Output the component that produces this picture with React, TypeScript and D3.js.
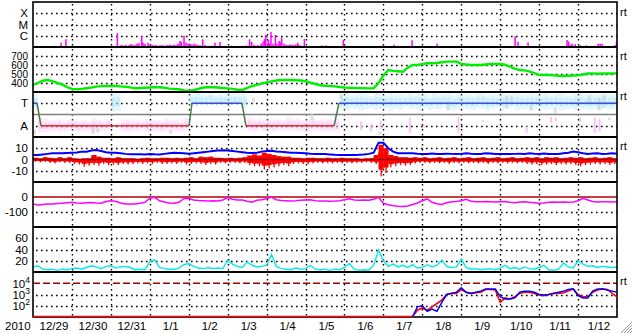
import React from 'react';
import * as d3 from 'd3';

const W = 633, H = 334;
const X0 = 33, X1 = 617;
const HOURS = 360;

// ---------- data ----------
const dayLabels = ['12/29','12/30','12/31','1/1','1/2','1/3','1/4','1/5','1/6','1/7','1/8','1/9','1/10','1/11','1/12'];

// X-ray flux bars (hours since 12/29 00:00, W/m^2)
const flareHours = [13.6,15.4,17.3,20.3,24.5,25.9,52.0,53.0,54.3,55.5,57.3,59.2,60.4,61.6,62.9,64.1,65.3,67.0,67.8,69.0,70.9,72.1,73.4,74.6,75.8,77.1,78.3,79.5,80.8,82.0,83.2,84.5,85.7,86.9,88.2,89.4,90.6,91.5,93.1,94.3,95.6,96.8,98.0,99.3,100.5,101.7,103.0,104.6,106.0,107.9,109.1,110.4,112.2,113.4,115.3,120.2,122.1,123.9,125.1,127.6,129.5,131.3,133.5,134.8,136.2,137.5,138.7,140.6,141.8,142.7,143.5,145.1,145.8,146.7,148.0,149.4,150.4,151.7,152.3,153.3,154.7,156.0,157.2,158.4,159.7,160.9,162.1,163.2,164.0,165.2,167.3,168.3,176.9,178.2,179.4,180.6,181.9,183.1,191.3,193.0,194.2,195.4,215.8,222.6,233.7,249.1,297.2,299.0,305.2,329.2,330.2,331.1,332.3,334.2,337.3,341.0,348.4,349.6,350.8,358.8,359.7];
const flareFlux = [1.2e-7,1.1e-7,2.4e-7,5e-7,1.3e-7,1.1e-7,1.7e-6,1.3e-7,1.5e-7,1.4e-7,1.6e-7,1.5e-7,1.9e-7,1.6e-7,1.5e-7,2e-7,2.2e-7,1e-6,2.5e-7,1.9e-7,2.4e-7,1.6e-7,1.5e-7,1.4e-7,1.5e-7,1.3e-7,1.4e-7,1.5e-7,1.3e-7,1.4e-7,1.5e-7,1.6e-7,1.4e-7,1.6e-7,1.5e-7,1.9e-7,3.4e-7,2.8e-7,1e-6,2.5e-7,2e-7,1.9e-7,1.7e-7,2e-7,1.7e-7,1.5e-7,1.4e-7,4.8e-7,1.5e-7,1.3e-7,1.2e-7,1.3e-7,2.4e-7,1.3e-7,2.8e-7,1.2e-7,1.3e-7,1.2e-7,1.1e-7,1.2e-7,1.3e-7,1.4e-7,4.8e-7,2.8e-7,1.5e-7,1.3e-7,1.5e-7,2e-7,3e-7,5e-7,1.2e-6,4.2e-7,2e-7,2.2e-6,2e-7,1.2e-6,2e-7,3.4e-7,2.8e-7,7.2e-7,2e-7,1.6e-7,1.5e-7,1.7e-7,1.6e-7,1.5e-7,1.7e-7,2.4e-7,1.5e-7,1.3e-7,5.1e-7,1.2e-7,1.3e-7,1.4e-7,1.2e-7,1.4e-7,1.3e-7,1.2e-7,4.2e-7,1.3e-7,1.2e-7,1.2e-7,1.5e-7,1.6e-7,4e-7,2e-7,9e-7,3e-7,2.5e-7,4.2e-7,3e-7,1.5e-7,2e-7,1.8e-7,1.5e-7,1.4e-7,1.9e-7,2e-7,1.9e-7,1.5e-7,3e-7];

// Solar wind speed, 3-hourly (km/s)
const speed = [378,400,425,433,420,400,385,355,335,330,335,342,350,360,365,367,367,367,362,359,352,341,345,348,350,352,352,348,338,335,330,318,315,320,335,350,352,352,350,345,340,335,325,322,345,365,380,395,405,418,428,433,433,433,430,428,420,403,390,375,370,368,362,355,350,348,345,343,342,340,340,400,480,544,535,530,525,570,600,600,610,619,619,622,630,637,637,640,611,605,600,600,600,605,611,611,611,605,581,560,544,540,530,510,490,489,489,485,480,478,480,483,485,495,505,507,503,505,507,505,507];

// IMF sector boundary line (hours, phi deg)
const sectorHours = [0,2.5,4.9,96.2,98,128.8,131.3,185.6,188.6,360];
const sectorPhi = [315,315,135,135,315,315,135,135,315,315];

// IMF phi spread, 3-hour bins (deg)
const phiLo = [265,80,85,90,95,85,90,100,95,85,90,95,80,90,95,100,250,255,90,85,95,90,100,85,90,95,85,90,95,85,90,95,300,290,300,295,305,300,295,300,290,305,300,280,95,90,100,90,95,85,100,95,90,100,95,90,85,95,100,90,95,90,85,270,260,275,265,255,270,280,260,265,275,255,270,260,280,265,270,255,275,260,270,265,280,260,255,270,275,265,260,280,270,255,265,275,260,270,285,260,265,270,255,275,265,260,270,280,255,265,270,260,275,265,255,270,260,275,265,270];
const phiHi = [385,200,190,180,175,185,170,180,190,175,185,170,195,185,175,190,395,400,180,190,175,185,170,190,180,185,175,190,180,185,175,195,385,395,390,385,395,380,390,385,395,390,385,390,200,185,190,180,195,185,190,180,200,185,190,180,185,195,180,190,185,180,190,385,395,380,390,400,385,375,395,390,380,400,385,390,380,395,385,400,390,380,395,385,390,400,380,395,385,390,380,395,400,385,390,380,395,385,390,400,385,380,395,390,385,400,380,390,395,385,380,400,390,385,395,380,390,400,385,390];
const pinkExtras = [[67,100,170],[69,90,150],[71,110,175],[77,77,197],[80,120,140],[87,77,205],[92,165,180],[101,77,130],[106,160,205],[107,170,200],[112,165,200],[115,77,200],[116,90,190],[118,180,200]];
const grayExtras = [[0,60,100],[12,70,150],[13,80,120],[28,70,100],[45,320,360],[57,180,230],[63,350,390],[71,60,90],[85,260,330],[97,280,380],[98,300,370],[102,260,300],[107,230,280],[114,300,380],[116,260,360],[117,280,380]];

// IMF Bt (3-hourly, nT)
const bt = [4,4,4.5,5,5.5,5.5,5.5,5.8,6,6.2,7,7,8,8.4,7.5,6.5,6,6,5.5,5,4.6,4.6,4.6,4.5,4.8,4.6,4.5,5,5.5,6,5.8,5.5,5.2,5.5,6,6.5,7,7.5,8,8.2,8,7.5,7,6.5,6,5.8,6,7,7.5,7.8,7.2,6.8,6.5,6,6,5.8,5.5,5.2,5,5,4.8,4.5,4.2,4,4,4,4,4.2,4.5,5,6,15,15,10,7,5.5,5.5,5.5,5.5,5.2,5,5,5.3,5,5,5.2,5,4.8,5,5.5,5.2,5,5,5.5,5.3,5,5,5,4.8,5,5.2,5,5.5,5.2,5,5.3,5,5,4.8,5.5,6,7,6.5,5.5,5,5.3,5.5,5,5.2,5.5,5];
// IMF Bz range per 3-hour bin (nT)
const bzHi = [1.5,1,2,1.5,1,2,1,2,1,0.5,1,1,4,2.5,1.5,1.5,1,2,1,1,1,0.5,1,1.5,1,1,1.5,1.5,1,1.5,1,1.5,2,1,2.5,2,2.5,1.5,1.5,1,1.5,1,1.5,2,3.5,4.5,3.5,6,5,4,3,2.5,2.5,1.5,1.5,1,1.5,1.5,1,1,1.5,1,1,1.5,1,1,1,0.5,1,1,4,13,10,4,3,2,2,1.5,2,1.5,2,1,1.5,2,1,1.5,2,1,1.5,2,1,1.5,2,1,1.5,2,1,1.5,2,1,1.5,2,1.5,2,1,2,1.5,2,1,1.5,2,1.5,2,1,1.5,2,1,1.5,2,1];
const bzLo = [-2,-2.5,-2,-3,-3.5,-2.5,-3,-3,-4,-4.5,-6.5,-5.5,-5,-5.5,-4,-5,-4.5,-5,-4,-4.5,-4,-3.5,-4,-3.5,-4,-3,-4,-4,-3.5,-4,-3,-4.5,-4,-3.5,-4,-5,-4,-4.5,-3,-3.5,-3,-3,-3.5,-3,-5,-6,-6,-9,-8,-7,-6,-5,-6,-4,-3.5,-4,-4,-3.5,-3,-3.5,-3,-3.5,-3,-3.5,-3,-3.5,-3,-3,-2.5,-3,-4,-15,-12,-7,-6,-5,-5.5,-5,-3.5,-3,-3,-3.5,-3,-3.5,-3,-4,-3,-3.5,-3,-3.5,-3,-3.5,-3,-4,-3,-3.5,-3,-3.5,-3,-3.5,-3,-4,-4.5,-4,-5,-4.5,-4,-5,-4,-4.5,-4,-5,-6,-5,-4.5,-4,-4.5,-4,-5,-4];

// Dst (3-hourly, nT)
const dst = [-47,-53,-50,-47,-47,-44,-42,-38,-35,-40,-42,-38,-37,-40,-42,-30,-25,-28,-40,-47,-47,-47,-42,-35,-8,-2,-25,-33,-40,-42,-35,-10,-9,-20,-24,-25,-27,-25,-27,-20,-4,-15,-20,-20,-28,-35,-22,-18,-12,0,-18,-24,-25,-27,-25,-22,-20,-18,-25,-27,-27,-28,-27,-25,-18,-12,-20,-22,-20,-22,-15,-2,-42,-52,-58,-62,-64,-60,-50,-40,-25,-13,-35,-45,-50,-38,-32,-30,-25,-15,-28,-31,-32,-30,-31,-33,-31,-30,-35,-38,-33,-31,-35,-38,-42,-40,-35,-33,-35,-33,-35,-33,-25,-9,-20,-30,-33,-31,-31,-33,-31];

// Proton density (3-hourly, p/cc)
const density = [9,11,5,4,5,3,5,4,6,7,5,8,11,9,6,10,11,7,9,10,8,4,5,4,18,22,8,6,5,5,7,13,15,10,7,6,8,6,7,6,21,14,10,8,18,12,9,10,12,31,10,6,5,4,7,5,6,12,5,4,5,3,5,4,8,15,5,3,4,3,12,39,20,10,14,9,12,8,13,7,8,13,9,12,21,10,8,9,23,8,5,6,4,5,6,4,7,12,6,8,5,9,6,5,8,12,4,3,5,16,9,7,20,14,10,11,8,10,9,8,9];

// Particle flux exponents (log10), 3-hourly from hour 234
const fluxStartHour = 234;
const fluxRedExp = [0.5,1.6,1.8,1.6,1.9,2.2,2.5,3.0,3.1,3.1,3.45,3.2,3.1,3.15,3.2,3.45,3.45,3.4,2.3,2.7,2.6,2.8,3.1,3.2,3.2,3.1,2.95,2.9,3.0,3.1,3.1,3.15,3.3,3.5,3.0,2.8,2.8,3.2,3.4,3.5,3.45,3.1,2.8];
const fluxBlueExp = [0.5,1.9,2.0,1.5,1.7,1.5,2.3,3.0,3.1,3.2,3.6,3.2,3.1,3.2,3.3,3.5,3.5,3.5,2.8,2.6,2.6,2.7,3.2,3.3,3.3,3.2,3.0,2.95,3.0,3.1,3.2,3.3,3.45,3.5,2.9,2.7,2.7,3.3,3.5,3.5,3.4,3.3,3.2];

const FONT = "'Liberation Sans', Arial, Helvetica, sans-serif";

export default function App() {
  const x = d3.scaleLinear().domain([0, HOURS]).range([X0, X1]);
  const yX = d3.scaleLog().domain([1e-7, 1e-3]).range([47, 2]).clamp(true);
  const yV = d3.scaleLinear().domain([300, 800]).range([92, 47]);
  const yP = d3.scaleLinear().domain([45, 405]).range([137, 92]);
  const yB = d3.scaleLinear().domain([-20, 20]).range([182, 137]);
  const yD = d3.scaleLinear().domain([-200, 100]).range([227, 182]);
  const yN = d3.scaleLinear().domain([0, 80]).range([272, 227]);
  const yF = d3.scaleLog().domain([10, 1e5]).range([317, 272]).clamp(true);

  const t3 = (i: number) => i * 3;
  const line3 = (ys: (v: number) => number) =>
    d3.line<number>().x((_, i) => x(t3(i))).y(v => ys(v));

  const fluxLine = d3.line<number>()
    .x((_, i) => x(fluxStartHour + 3 * i))
    .y(v => Math.min(316.5, yF(Math.pow(10, v))));
  const redFull = `M${x(0)},316.5L${x(fluxStartHour)},316.5` + fluxLine(fluxRedExp)!.replace(/^M/, 'L');

  // Bz trace: a line through each bin's high and low values
  const bzPts: [number, number][] = [];
  bzHi.forEach((hi, i) => {
    bzPts.push([x(t3(i) + 0.5), yB(hi * 0.5)]);
    bzPts.push([x(t3(i) + 1.5), yB(bzLo[i] * 0.5)]);
  });
  const bzPath = d3.line()(bzPts)!;

  const vgrid = d3.range(1, 15).map(d => x(d * 24));
  const hgrid = [
    yX(1e-4), yX(1e-5), yX(1e-6),
    yV(700), yV(600), yV(500), yV(400),
    yP(315), yP(135),
    yB(10), yB(-10),
    yD(-100),
    yN(60), yN(40), yN(20),
    yF(1e3), yF(1e2),
  ];
  const separators = [47, 92, 137, 182, 227, 272];
  const binW = x(3) - x(0);

  const leftLabels: [string, number, number][] = [
    ['X', yX(1e-4), 11.5], ['M', yX(1e-5), 11.5], ['C', yX(1e-6), 11.5],
    ['700', yV(700), 10], ['600', yV(600), 10], ['500', yV(500), 10], ['400', yV(400), 10],
    ['T', yP(315), 11.5], ['A', yP(135), 11.5],
    ['10', yB(10), 11.5], ['0', yB(0), 11.5], ['-10', yB(-10), 11.5],
    ['0', yD(0), 11.5], ['-100', yD(-100), 11.5],
    ['60', yN(60), 11.5], ['40', yN(40), 11.5], ['20', yN(20), 11.5],
  ];
  const powLabels: [string, number][] = [['4', yF(1e4)], ['3', yF(1e3)], ['2', yF(1e2)]];
  const rtY = [12, 56, 96, 146, 281];

  return (
    <svg width={W} height={H} style={{ position: 'absolute', left: 0, top: 0, background: '#fff' }} fontFamily={FONT}>
      <defs>
        <clipPath id="cp"><rect x={X0} y={2} width={X1 - X0} height={316} /></clipPath>
      </defs>
      <rect x={0} y={0} width={W} height={H} fill="#fff" />

      {/* grids */}
      <g stroke="#000" strokeWidth={1.4} strokeDasharray="1.6,3.4" fill="none">
        {hgrid.map((y, i) => <line key={'h' + i} x1={X0 + 3} x2={X1} y1={Math.round(y) + 0.5} y2={Math.round(y) + 0.5} />)}
        {vgrid.map((vx, i) => <line key={'v' + i} x1={Math.round(vx) + 0.5} x2={Math.round(vx) + 0.5} y1={4} y2={317} />)}
      </g>

      <g clipPath="url(#cp)">
        {/* panel 1: X-ray */}
        {flareHours.map((h, i) => (
          <rect key={'f' + i} x={x(h) - 0.75} y={yX(flareFlux[i])} width={1.5} height={47 - yX(flareFlux[i])} fill="#ff00ff" />
        ))}

        {/* panel 2: speed */}
        <path d={line3(yV)(speed)!} fill="none" stroke="#00ee00" strokeWidth={2.4} />

        {/* panel 3: IMF phi */}
        <line x1={X0} x2={X1} y1={yP(225)} y2={yP(225)} stroke="#808080" strokeWidth={1.5} />
        {grayExtras.map((g, i) => (
          <rect key={'g' + i} x={x(t3(g[0]))} y={yP(g[2])} width={binW * 0.6} height={yP(g[1]) - yP(g[2])} fill="#d2d2d2" opacity={0.7} />
        ))}
        {phiLo.map((lo, i) => {
          const hi = phiHi[i];
          const col = (lo + hi) / 2 > 225 ? '#a6e2f6' : '#f6bdf1';
          const q = (hi - lo) * 0.25;
          return (
            <g key={'p' + i}>
              <rect x={x(t3(i))} y={yP(hi)} width={binW} height={yP(lo) - yP(hi)} fill={col} opacity={0.3} />
              <rect x={x(t3(i)) + 0.5} y={yP(hi - q)} width={binW - 1} height={yP(lo + q) - yP(hi - q)} fill={col} opacity={0.45} />
            </g>
          );
        })}
        {pinkExtras.map((p, i) => (
          <rect key={'pk' + i} x={x(t3(p[0])) + 1} y={yP(p[2])} width={binW * 0.45} height={yP(p[1]) - yP(p[2])} fill="#f6bdf1" opacity={0.85} />
        ))}
        {sectorHours.slice(1).map((h, i) => {
          const a = sectorPhi[i], b = sectorPhi[i + 1];
          const col = a === b ? (a > 225 ? '#3a4fd8' : '#e03030') : '#4a7a4a';
          return <line key={'s' + i} x1={x(sectorHours[i])} x2={x(h)} y1={yP(a)} y2={yP(b)} stroke={col} strokeWidth={1.5} />;
        })}

        {/* panel 4: Bz / Bt */}
        {bzHi.map((hi, i) => (
          <g key={'bz' + i}>
            <rect x={x(t3(i))} y={yB(hi)} width={binW + 0.3} height={yB(bzLo[i] * 0.6) - yB(hi)} fill="#ff0000" />
            <rect x={x(t3(i) + 1.2)} y={yB(hi)} width={1.3} height={yB(bzLo[i]) - yB(hi)} fill="#ff0000" />
          </g>
        ))}
        <path d={bzPath} fill="none" stroke="#ff0000" strokeWidth={1.2} />
        <line x1={X0} x2={X1} y1={yB(0)} y2={yB(0)} stroke="#a00000" strokeWidth={1.5} />
        <path d={line3(yB)(bt)!} fill="none" stroke="#0000ff" strokeWidth={2} />

        {/* panel 5: Dst */}
        <line x1={X0} x2={X1} y1={yD(0)} y2={yD(0)} stroke="#b00000" strokeWidth={1.5} />
        <path d={line3(yD)(dst)!} fill="none" stroke="#ff00ff" strokeWidth={1.5} />

        {/* panel 6: density */}
        <path d={line3(yN)(density)!} fill="none" stroke="#00eaea" strokeWidth={1.4} />

        {/* panel 7: particle flux */}
        <line x1={X0} x2={X1} y1={yF(1e4)} y2={yF(1e4)} stroke="#a00000" strokeWidth={1.5} strokeDasharray="7,3" />
      </g>

      {/* frame */}
      <g stroke="#000" fill="none">
        <rect x={X0} y={2} width={X1 - X0} height={315} strokeWidth={1.6} />
        {separators.map((y, i) => <line key={'sep' + i} x1={X0} x2={X1} y1={y} y2={y} strokeWidth={2} />)}
      </g>

      <g clipPath="url(#cp)">
        <path d={redFull} fill="none" stroke="#ff0000" strokeWidth={1.6} />
        <path d={fluxLine(fluxBlueExp)!} fill="none" stroke="#0000ff" strokeWidth={1.5} />
      </g>

      {/* labels */}
      <g fontSize={11.5} fill="#000">
        {leftLabels.map(([t, y, fs], i) => (
          <text key={'l' + i} x={28} y={y + fs * 0.36} fontSize={fs} textAnchor="end">{t}</text>
        ))}
        {powLabels.map(([p, y], i) => (
          <text key={'pw' + i} x={30} y={y + 4.5} textAnchor="end">10<tspan dy={-5} fontSize={8.5}>{p}</tspan></text>
        ))}
        <text x={5} y={330}>2010</text>
        {dayLabels.map((d, i) => (
          <text key={'d' + i} x={x(i * 24 + 12) + 1.5} y={330} textAnchor="middle">{d}</text>
        ))}
        {rtY.map((y, i) => (
          <text key={'rt' + i} x={620} y={y + 4} fontSize={11}>rt</text>
        ))}
      </g>

      {/* resize grip */}
      <g stroke="#999" strokeWidth={1}>
        <line x1={621} y1={333} x2={632} y2={322} />
        <line x1={624} y1={333} x2={632} y2={325} />
        <line x1={627} y1={333} x2={632} y2={328} />
        <line x1={630} y1={333} x2={632} y2={331} />
      </g>
    </svg>
  );
}
